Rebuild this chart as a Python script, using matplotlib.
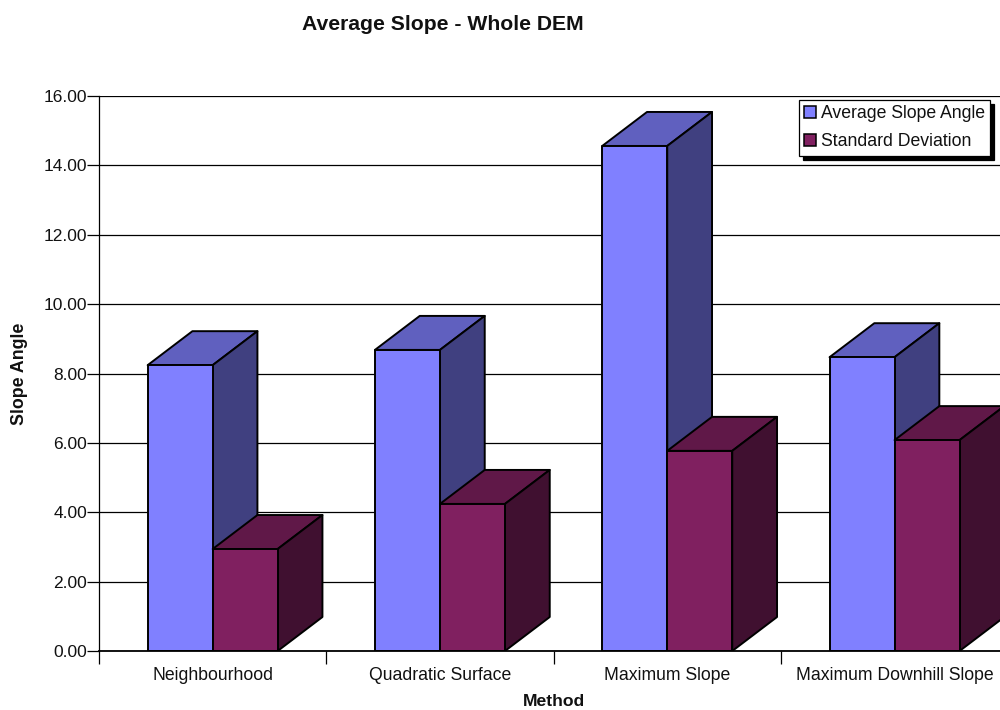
import matplotlib
matplotlib.use("Agg")
import matplotlib.pyplot as plt
from matplotlib.patches import Polygon, Rectangle

plt.rcParams["font.family"] = ["Liberation Sans", "DejaVu Sans"]

methods = ["Neighbourhood", "Quadratic Surface", "Maximum Slope", "Maximum Downhill Slope"]
avg_slope = [8.24, 8.68, 14.56, 8.47]
std_dev = [2.94, 4.24, 5.77, 6.08]
y_ticks = [0, 2, 4, 6, 8, 10, 12, 14, 16]

# face, top and side shades for each series
AVG_SHADES = ("#8080ff", "#6060bf", "#404080")
STD_SHADES = ("#802060", "#601848", "#401030")

BAR_W = 0.286
DEPTH_X = 0.197
DEPTH_Y = 0.98
EDGE = dict(edgecolor="black", linewidth=1.4, joinstyle="round")

fig = plt.figure(figsize=(10, 7.1), dpi=100)
ax = fig.add_axes([0.099, 59 / 710, 0.901, 555 / 710])
ax.set_xlim(0, 901 / 227.3)
ax.set_ylim(0, 16)


def box(left, height, shades, z):
    right = left + BAR_W
    ax.add_patch(Polygon([(left, height), (left + DEPTH_X, height + DEPTH_Y),
                          (right + DEPTH_X, height + DEPTH_Y), (right, height)],
                         facecolor=shades[1], zorder=z, **EDGE))
    ax.add_patch(Polygon([(right, 0), (right + DEPTH_X, DEPTH_Y),
                          (right + DEPTH_X, height + DEPTH_Y), (right, height)],
                         facecolor=shades[2], zorder=z, **EDGE))
    ax.add_patch(Rectangle((left, 0), BAR_W, height, facecolor=shades[0], zorder=z, **EDGE))


for i, (a, s) in enumerate(zip(avg_slope, std_dev)):
    box(i + 0.5 - BAR_W, a, AVG_SHADES, 3 + i * 2)
    box(i + 0.5, s, STD_SHADES, 4 + i * 2)

ax.set_yticks(y_ticks)
ax.set_yticklabels([f"{v:.2f}" for v in y_ticks], fontsize=12.5, color="#111111")
ax.yaxis.grid(True, color="black", linewidth=0.9)
ax.set_axisbelow(True)

ax.set_xticks(range(4))
ax.set_xticklabels([])
ax.set_xticks([i + 0.5 for i in range(4)], labels=methods, minor=True, fontsize=12.7, color="#111111")
ax.tick_params(axis="x", which="major", length=9.5, width=0.9, direction="out")
ax.tick_params(axis="x", which="minor", length=0, pad=11.3)
ax.tick_params(axis="y", length=9, width=0.9, pad=-0.5)
for side in ("top", "right"):
    ax.spines[side].set_visible(False)
ax.spines["left"].set_linewidth(0.9)
ax.spines["bottom"].set_linewidth(1.3)
ax.spines["bottom"].set_zorder(20)

fig.text(0.4425, 1 - 24.5 / 710, "Average Slope - Whole DEM", ha="center", va="center",
         fontsize=15.25, fontweight="bold", color="#111111")
fig.text(0.5535, 1 - 702 / 710, "Method", ha="center", va="center", fontsize=12.6,
         fontweight="bold", color="#111111")
fig.text(0.0195, 1 - 374 / 710, "Slope Angle", ha="center", va="center", rotation=90,
         fontsize=12.8, fontweight="bold", color="#111111")

handles = [Rectangle((0, 0), 1, 1, facecolor=AVG_SHADES[0], edgecolor="black", linewidth=1.1),
           Rectangle((0, 0), 1, 1, facecolor=STD_SHADES[0], edgecolor="black", linewidth=1.1)]
leg = ax.legend(handles, ["Average Slope Angle", "Standard Deviation"],
                loc="upper right", bbox_to_anchor=(990 / 1000, 1 - 100 / 710),
                bbox_transform=fig.transFigure, fontsize=12.7, frameon=True, fancybox=False,
                framealpha=1, edgecolor="black", handlelength=0.67, handleheight=0.67,
                handletextpad=0.25, labelspacing=0.62, borderpad=0.3, borderaxespad=0,
                shadow={"color": "black", "alpha": 1, "ox": 2.9, "oy": -2.9})
leg.get_frame().set_linewidth(0.9)
leg.set_zorder(30)
for label in leg.get_texts():
    label.set_color("#111111")

fig.savefig("out.png", dpi=100)
